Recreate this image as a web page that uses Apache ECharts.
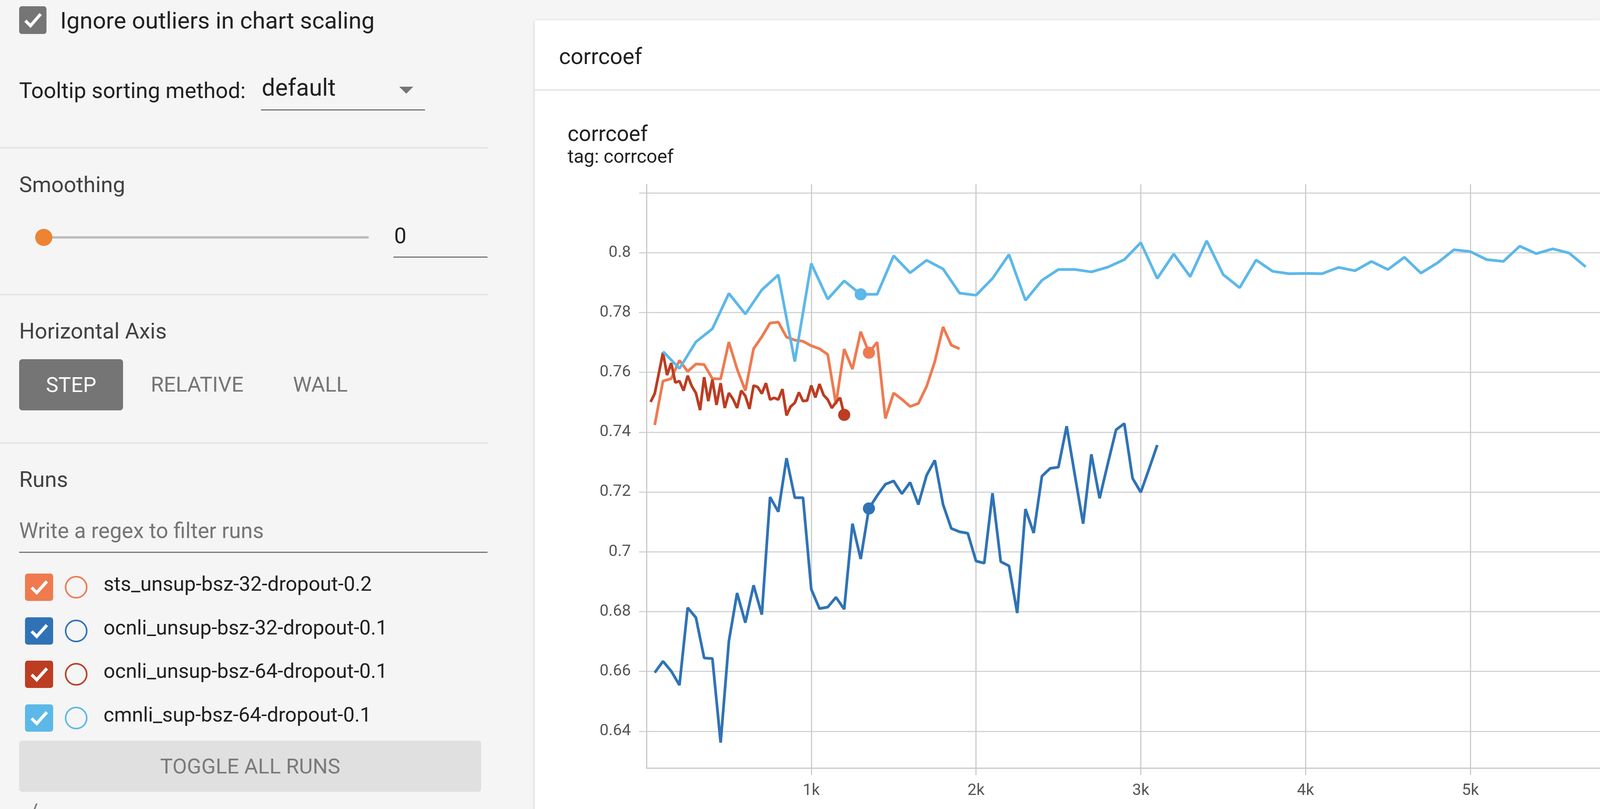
<!DOCTYPE html>
<html>
<head>
<meta charset="utf-8">
<title>corrcoef</title>
<script src="https://cdn.jsdelivr.net/npm/echarts@6/dist/echarts.min.js"></script>
<style>
  html, body { margin: 0; width: 100%; height: 2072px; }
  body { overflow: hidden; background: #f5f5f5; font-family: Roboto, 'Noto Sans', sans-serif;
         position: relative; color: #212121; }
  .a { position: absolute; white-space: nowrap; line-height: 1; }
  .t56 { font-size: 56px; }
  .box { position: absolute; border-radius: 7px; }
  .box svg { position: absolute; left: 0; top: 0; }
  .rule { position: absolute; height: 3px; background: #e0e0e0; left: 0; width: 1248px; }
  .line { position: absolute; height: 3px; background: #757575; }
  .btn { position: absolute; border-radius: 8px; text-align: center; font-size: 54px; }
  #card { position: absolute; left: 1369px; top: 52px; right: 0; height: 2100px; background: #fff;
          box-shadow: 0 2px 8px rgba(0,0,0,0.18); }
  #cardHead { position: absolute; left: 0; top: 0; width: 100%; height: 177px; border-bottom: 3px solid #e0e0e0; }
  #chart { position: absolute; left: 1372px; top: 232px; height: 1840px; }
</style>
</head>
<body>

<!-- 左边栏 -->
<div class="box" style="left:49px;top:16px;width:70px;height:71px;background:#757575;">
  <svg width="70" height="71"><polyline points="16,37 29,50 55,20" fill="none" stroke="#fff" stroke-width="8"/></svg>
</div>
<div class="a" style="left:154px;top:23px;font-size:60px;">Ignore outliers in chart scaling</div>

<div class="a t56" style="left:49px;top:204px;">Tooltip sorting method:</div>
<div class="a" style="left:670px;top:194px;font-size:61px;">default</div>
<svg class="a" style="left:1022px;top:222px;" width="36" height="18"><polygon points="0,0 36,0 18,18" fill="#757575"/></svg>
<div class="line" style="left:668px;top:280px;width:420px;"></div>
<div class="rule" style="top:377px;"></div>

<div class="a t56" style="left:49px;top:445px;color:#424242;">Smoothing</div>
<div class="a" style="left:112px;top:605px;width:832px;height:6px;background:#bdbdbd;"></div>
<div class="a" style="left:90px;top:586px;width:44px;height:44px;border-radius:22px;background:#ec8434;"></div>
<div class="a t56" style="left:1009px;top:576px;">0</div>
<div class="line" style="left:1007px;top:657px;width:241px;"></div>
<div class="rule" style="top:753px;"></div>

<div class="a t56" style="left:49px;top:820px;color:#424242;">Horizontal Axis</div>
<div class="btn" style="left:49px;top:920px;width:266px;height:131px;line-height:131px;background:#757575;color:#fff;">STEP</div>
<div class="a" style="left:386px;top:958px;font-size:54px;color:#757575;">RELATIVE</div>
<div class="a" style="left:750px;top:958px;font-size:54px;color:#757575;">WALL</div>
<div class="rule" style="top:1133px;"></div>

<div class="a t56" style="left:49px;top:1200px;color:#424242;">Runs</div>
<div class="a" style="left:49px;top:1332px;font-size:55px;color:#757575;">Write a regex to filter runs</div>
<div class="line" style="left:49px;top:1413px;width:1199px;"></div>
<div id="runList"></div>
<div class="btn" style="left:49px;top:1897px;width:1183px;height:131px;line-height:131px;background:#e0e0e0;color:#7a7a7a;">TOGGLE ALL RUNS</div>
<div class="a" style="left:76px;top:2052px;font-size:52px;color:#757575;">/</div>

<!-- 右边卡片 -->
<div id="card"><div id="cardHead"></div></div>
<div class="a" style="left:1431px;top:116px;font-size:57px;">corrcoef</div>
<div id="chart"></div>

<script>
// 运行名称 和 颜色
var runNames = ['sts_unsup-bsz-32-dropout-0.2', 'ocnli_unsup-bsz-32-dropout-0.1',
                'ocnli_unsup-bsz-64-dropout-0.1', 'cmnli_sup-bsz-64-dropout-0.1'];
var runColors = ['#ef7a50', '#2f73b6', '#bc3d22', '#5cb8e9'];

// 横坐标 step
var stsSteps = [50,100,150,200,250,300,350,400,450,500,550,600,650,700,750,800,850,900,950,1000,
  1050,1100,1150,1200,1250,1300,1350,1400,1450,1500,1550,1600,1650,1700,1750,1800,1850,1900];
var ocnli32Steps = [50,100,150,200,250,300,350,400,450,500,550,600,650,700,750,800,850,900,950,1000,
  1050,1100,1150,1200,1250,1300,1350,1400,1450,1500,1550,1600,1650,1700,1750,1800,1850,1900,1950,2000,
  2050,2100,2150,2200,2250,2300,2350,2400,2450,2500,2550,2600,2650,2700,2750,2800,2850,2900,2950,3000,
  3050,3100];
var ocnli64Steps = [25,50,75,100,125,150,175,200,225,250,275,300,325,350,375,400,425,450,475,500,
  525,550,575,600,625,650,675,700,725,750,775,800,825,850,875,900,925,950,975,1000,
  1025,1050,1075,1100,1125,1150,1175,1200];
var cmnliSteps = [100,200,300,400,500,600,700,800,900,1000,1100,1200,1300,1400,1500,1600,1700,1800,1900,2000,
  2100,2200,2300,2400,2500,2600,2700,2800,2900,3000,3100,3200,3300,3400,3500,3600,3700,3800,3900,4000,
  4100,4200,4300,4400,4500,4600,4700,4800,4900,5000,5100,5200,5300,5400,5500,5600,5700];

// 纵坐标 corrcoef
var stsVals = [0.7424,0.7571,0.7579,0.7640,0.7603,0.7628,0.7626,0.7579,0.7578,0.7701,
  0.7611,0.7539,0.7679,0.7719,0.7765,0.7768,0.7718,0.7708,0.7704,0.7689,
  0.7679,0.7660,0.7494,0.7678,0.7611,0.7736,0.7666,0.7701,0.7446,0.7531,
  0.7510,0.7486,0.7496,0.7553,0.7636,0.7752,0.7691,0.7679];
var ocnli32Vals = [0.6596,0.6634,0.6601,0.6554,0.6813,0.6780,0.6645,0.6643,0.6362,0.6701,
  0.6862,0.6763,0.6888,0.6790,0.7183,0.7134,0.7313,0.7181,0.7181,0.6875,
  0.6810,0.6815,0.6848,0.6808,0.7094,0.6976,0.7145,0.7188,0.7226,0.7237,
  0.7194,0.7232,0.7158,0.7256,0.7306,0.7158,0.7078,0.7067,0.7062,0.6969,
  0.6962,0.7196,0.6967,0.6953,0.6795,0.7143,0.7063,0.7253,0.7279,0.7283,
  0.7420,0.7256,0.7094,0.7326,0.7179,0.7295,0.7408,0.7429,0.7246,0.7199,
  0.7277,0.7357];
var ocnli64Vals = [0.7501,0.7529,0.7597,0.7666,0.7591,0.7631,0.7566,0.7571,0.7539,0.7589,
  0.7554,0.7531,0.7474,0.7584,0.7504,0.7576,0.7491,0.7564,0.7481,0.7531,
  0.7511,0.7481,0.7539,0.7521,0.7478,0.7556,0.7551,0.7529,0.7564,0.7509,
  0.7515,0.7509,0.7544,0.7456,0.7486,0.7498,0.7533,0.7504,0.7506,0.7556,
  0.7516,0.7561,0.7524,0.7509,0.7481,0.7500,0.7515,0.7458];
var cmnliVals = [0.7670,0.7613,0.7702,0.7746,0.7864,0.7795,0.7876,0.7926,0.7636,0.7964,
  0.7845,0.7906,0.7861,0.7861,0.7990,0.7933,0.7975,0.7946,0.7865,0.7858,
  0.7914,0.7994,0.7841,0.7908,0.7944,0.7944,0.7936,0.7952,0.7977,0.8034,
  0.7914,0.7996,0.7920,0.8040,0.7927,0.7883,0.7976,0.7938,0.7930,0.7931,
  0.7930,0.7951,0.7940,0.7971,0.7944,0.7985,0.7932,0.7966,0.8010,0.8004,
  0.7977,0.7971,0.8022,0.7997,0.8013,0.7999,0.7953];

// 鼠标悬停处的那个点（每条线一个）
var hoverSteps = [1350, 1350, 1200, 1300];

// 纵轴刻度标签
var yTickLabels = ['0.64','0.66','0.68','0.7','0.72','0.74','0.76','0.78','0.8'];

var allSteps = [stsSteps, ocnli32Steps, ocnli64Steps, cmnliSteps];
var allVals = [stsVals, ocnli32Vals, ocnli64Vals, cmnliVals];

// 左侧 runs 列表
var listHtml = '';
for (var r = 0; r < runNames.length; r++) {
  var dy = r * 111.7;
  listHtml += '<div class="box" style="left:64px;top:' + (1469 + dy) + 'px;width:72px;height:70px;background:' + runColors[r] + ';">' +
    '<svg width="72" height="70"><polyline points="17,36 30,49 56,20" fill="none" stroke="#fff" stroke-width="8"/></svg></div>' +
    '<div class="a" style="left:166px;top:' + (1475 + dy) + 'px;width:50px;height:50px;border:4px solid ' + runColors[r] + ';border-radius:50%;"></div>' +
    '<div class="a" style="left:265px;top:' + (1470 + dy) + 'px;font-size:52px;">' + runNames[r] + '</div>';
}
document.getElementById('runList').innerHTML = listHtml;

// 图表宽度跟着窗口走（右边贴边）
var chartDom = document.getElementById('chart');
chartDom.style.width = (window.innerWidth - 1372) + 'px';

var series = [];
for (var i = 0; i < runNames.length; i++) {
  var pts = [];
  for (var j = 0; j < allSteps[i].length; j++) {
    pts.push([allSteps[i][j], allVals[i][j]]);
  }
  series.push({
    name: runNames[i],
    type: 'line',
    data: pts,
    showSymbol: false,
    lineStyle: { color: runColors[i], width: 7 },
    itemStyle: { color: runColors[i] },
    z: 2 + i
  });
}
// 悬停点单独画
for (var k = 0; k < runNames.length; k++) {
  var idx = allSteps[k].indexOf(hoverSteps[k]);
  series.push({
    type: 'scatter',
    data: [[allSteps[k][idx], allVals[k][idx]]],
    symbolSize: 31,
    itemStyle: { color: runColors[k], opacity: 1 },
    z: 10
  });
}

var myChart = echarts.init(chartDom);
var option = {
  animation: false,
  title: {
    text: 'corrcoef',
    subtext: 'tag: corrcoef',
    left: 81,
    top: 88,
    padding: 0,
    itemGap: 6,
    textStyle: { fontFamily: 'Roboto', fontSize: 55, fontWeight: 'normal', color: '#212121', lineHeight: 55 },
    subtextStyle: { fontFamily: 'Roboto', fontSize: 48, color: '#212121', lineHeight: 48 }
  },
  grid: { left: 283, top: 240, right: 0, bottom: 105 },
  xAxis: {
    type: 'value',
    min: 0,
    max: 5787,
    interval: 1000,
    axisLine: { lineStyle: { color: '#c8c8c8', width: 3 } },
    axisTick: { show: true, length: 18, lineStyle: { color: '#cccccc', width: 3 } },
    axisLabel: {
      showMinLabel: false, showMaxLabel: false, margin: 38,
      fontFamily: 'Roboto', fontSize: 41, color: '#555555',
      formatter: function (v) { return (v / 1000) + 'k'; }
    },
    splitLine: { show: true, showMaxLine: false, lineStyle: { color: '#cccccc', width: 3 } }
  },
  yAxis: {
    type: 'value',
    min: 0.6277,
    max: 0.8229,
    splitNumber: 10,
    axisLine: { show: true, lineStyle: { color: '#c8c8c8', width: 3 } },
    axisTick: { show: true, length: 19, lineStyle: { color: '#d3d3d3', width: 3 } },
    axisLabel: {
      showMinLabel: false, showMaxLabel: false, margin: 40,
      fontFamily: 'Roboto', fontSize: 41, color: '#555555',
      formatter: function (v) {
        var s = String(+v.toFixed(2));
        return yTickLabels.indexOf(s) >= 0 ? s : '';
      }
    },
    splitLine: { show: true, showMaxLine: false, showMinLine: false, lineStyle: { color: '#d3d3d3', width: 3 } }
  },
  series: series
};
myChart.setOption(option);
</script>
</body>
</html>
